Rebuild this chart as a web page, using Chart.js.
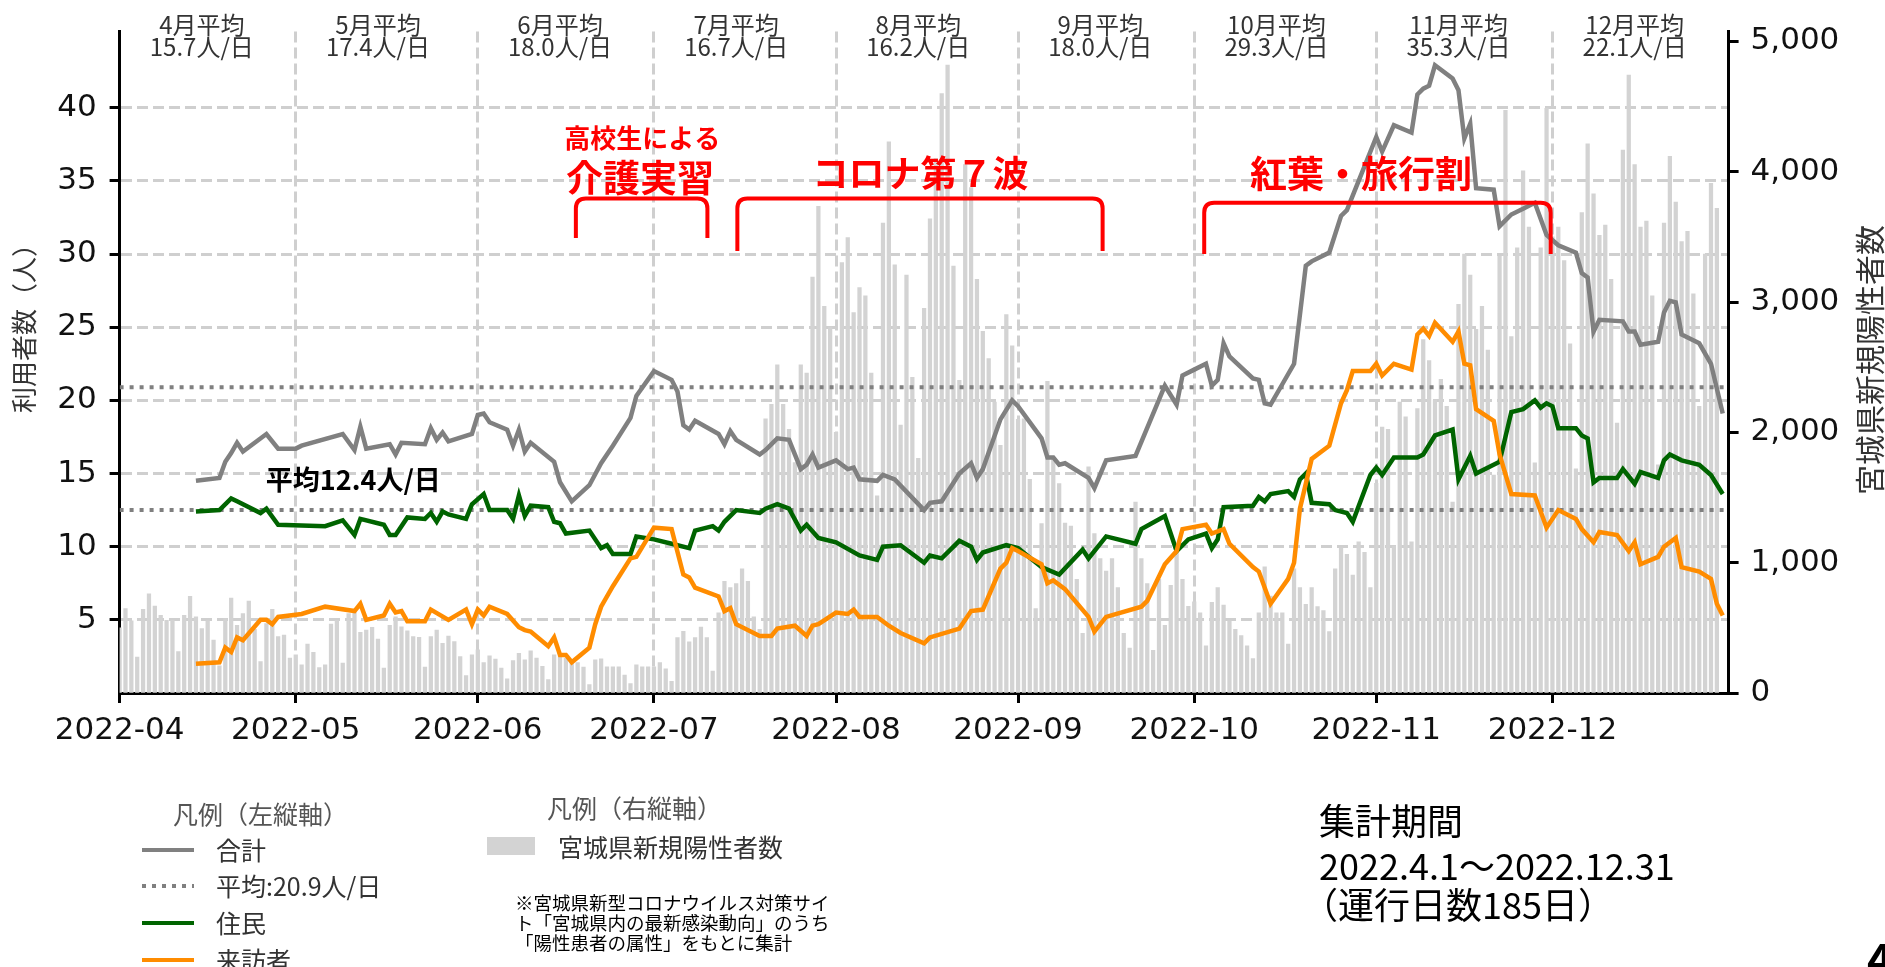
<!DOCTYPE html>
<html lang="ja">
<head>
<meta charset="utf-8">
<script src="https://cdn.jsdelivr.net/npm/chart.js@4.4.1/dist/chart.umd.min.js"></script>
<style>
  html, body { margin: 0; padding: 0; background: #fff; overflow: hidden; }
  #wrap { position: relative; width: 1885px; height: 967px; }
  canvas { position: absolute; left: 0; top: 0; }
  .txt { position: absolute; white-space: nowrap; font-family: "Noto Sans CJK JP", sans-serif; line-height: 1; color: #333; }
  .hd { position: absolute; height: 4px; width: 52px; }
</style>
</head>
<body>
<div id="wrap">
  <canvas id="chart" width="1885" height="967"></canvas>

  <!-- 凡例（左縦軸） -->
  <div class="txt" style="left:173px; top:801px; font-size:25px; color:#555;">凡例（左縦軸）</div>
  <div class="hd" style="left:142px; top:848px; background:#808080;"></div>
  <div class="txt" style="left:216px; top:837px; font-size:25px;">合計</div>
  <div class="hd" style="left:142px; top:884px; background:repeating-linear-gradient(90deg,#808080 0 4px,transparent 4px 10px);"></div>
  <div class="txt" style="left:216px; top:873px; font-size:25px;">平均:20.9人/日</div>
  <div class="hd" style="left:142px; top:921px; background:#006400;"></div>
  <div class="txt" style="left:216px; top:910px; font-size:25px;">住民</div>
  <div class="hd" style="left:142px; top:958px; background:#ff8c00;"></div>
  <div class="txt" style="left:216px; top:947px; font-size:25px;">来訪者</div>

  <!-- 凡例（右縦軸） -->
  <div class="txt" style="left:547px; top:795px; font-size:25px; color:#555;">凡例（右縦軸）</div>
  <div style="position:absolute; left:487px; top:837px; width:48px; height:18px; background:#d3d3d3;"></div>
  <div class="txt" style="left:558px; top:834px; font-size:25px;">宮城県新規陽性者数</div>

  <div class="txt" style="left:515px; top:892px; font-size:18.5px; line-height:20px; color:#000;">※宮城県新型コロナウイルス対策サイ<br>ト「宮城県内の最新感染動向」のうち<br>「陽性患者の属性」をもとに集計</div>

  <div class="txt" style="left:1319px; top:801px; font-size:36px; color:#000;">集計期間</div>
  <div class="txt" style="left:1319px; top:846px; font-size:36px; color:#000;">2022.4.1～2022.12.31</div>
  <div class="txt" style="left:1302px; top:885px; font-size:36px; color:#000;">（運行日数185日）</div>

  <div class="txt" style="left:1867px; top:936px; font-size:44px; font-weight:bold; color:#000;">4</div>
</div>

<script>
// 月の区切り（x軸の目盛り）と月平均
const months = ['2022-04', '2022-05', '2022-06', '2022-07', '2022-08', '2022-09', '2022-10', '2022-11', '2022-12'];
const monthAvg = [15.7, 17.4, 18.0, 16.7, 16.2, 18.0, 29.3, 35.3, 22.1];
const leftTicks = [5, 10, 15, 20, 25, 30, 35, 40];
const rightTicks = [0, 1000, 2000, 3000, 4000, 5000];

// 平均線（合計 / 住民）
const avgTotal = 20.9;
const avgResident = 12.5;

// 宮城県新規陽性者数（2022-04-01 から 1日ずつ）
const positives = [
  500, 647, 553, 275, 642, 761, 667, 596, 558, 558,
  318, 596, 741, 584, 495, 553, 407, 209, 571, 728,
  520, 609, 705, 488, 242, 533, 642, 432, 445, 267,
  292, 217, 376, 313, 196, 217, 528, 558, 229, 609,
  622, 465, 483, 503, 414, 191, 520, 584, 508, 477,
  432, 427, 199, 432, 483, 381, 437, 394, 280, 133,
  292, 331, 234, 285, 260, 191, 108, 249, 305, 255,
  323, 267, 204, 103, 292, 305, 267, 255, 234, 199,
  65, 255, 262, 200, 200, 200, 137, 72, 217, 200,
  200, 200, 233, 185, 89, 425, 473, 393, 425, 505,
  425, 169, 616, 856, 808, 840, 952, 856, 584, 489,
  2103, 2215, 2519, 2215, 2024, 1768, 2519, 2455, 3191, 3735,
  2967, 2807, 2000, 3302, 3495, 2919, 3111, 3047, 2455, 1512,
  3606, 4230, 3286, 2055, 3207, 2423, 1800, 2951, 3638, 4100,
  4600, 4818, 3276, 2400, 4054, 3878, 3175, 2775, 2567, 2232,
  1900, 2903, 2663, 2100, 2103, 1640, 648, 1300, 2391, 1800,
  1607, 1304, 1280, 872, 457, 1736, 1224, 1032, 936, 1032,
  808, 457, 344, 1464, 1032, 840, 328, 872, 520, 826,
  1096, 872, 665, 700, 616, 361, 696, 808, 675, 552,
  489, 441, 361, 264, 616, 968, 744, 616, 616, 376,
  952, 808, 680, 808, 664, 632, 472, 952, 1112, 1064,
  904, 1160, 1080, 808, 1608, 2040, 2024, 1128, 2232, 2119,
  1160, 2183, 2711, 2551, 2248, 2407, 2200, 1464, 2983, 3367,
  3207, 2791, 2967, 2631, 1672, 3351, 4470, 2735, 3415, 4006,
  3575, 1767, 3415, 4486, 3500, 3575, 3318, 2679, 1720, 3686,
  4214, 3830, 3511, 3590, 3175, 2071, 4166, 4742, 4054, 3575,
  3622, 3047, 1750, 3606, 4118, 3767, 3463, 3543, 3063, 2200,
  3367, 3910, 3719, null, null
];

// 利用者数（運行日のみ、2022-04-01 からの日数）
const totalDay = [
  13, 17, 18, 19, 20, 21, 25, 27, 30, 31,
  38, 40, 41, 42, 46, 47, 48, 52, 53, 54,
  55, 56, 60, 61, 62, 63, 66, 67, 68, 69,
  70, 74, 75, 77, 80, 82, 84, 87, 88, 91,
  94, 95, 96, 97, 98, 102, 103, 104, 105, 109,
  110, 112, 114, 116, 117, 118, 119, 122, 124, 125,
  126, 129, 130, 132, 137, 138, 140, 143, 145, 146,
  147, 150, 152, 153, 157, 158, 159, 160, 161, 165,
  166, 168, 173, 178, 180, 181, 183, 185, 186, 187,
  188, 189, 193, 194, 195, 196, 198, 200, 202, 203,
  206, 208, 209, 214, 215, 217, 220, 221, 222, 223,
  224, 227, 228, 229, 230, 231, 234, 235, 237, 239,
  241, 243, 245, 248, 249, 250, 251, 252, 256, 257,
  258, 259, 262, 263, 264, 265, 266, 269, 271, 273
];
const totalVal = [
  14.5, 14.7, 15.8, 16.4, 17.1, 16.5, 17.7, 16.7, 16.7, 16.9,
  17.7, 16.6, 18.2, 16.7, 17.0, 16.3, 17.1, 17.0, 18.1, 17.3,
  17.8, 17.2, 17.7, 19.0, 19.1, 18.5, 18.0, 16.9, 18.0, 16.5,
  17.1, 15.8, 14.4, 13.1, 14.2, 15.7, 16.9, 18.8, 20.3, 22.0,
  21.4, 20.6, 18.3, 18.0, 18.6, 17.7, 17.0, 17.9, 17.3, 16.3,
  16.6, 17.4, 17.3, 15.3, 15.6, 16.3, 15.4, 15.9, 15.3, 15.4,
  14.6, 14.5, 14.9, 14.6, 12.5, 13.0, 13.1, 15.0, 15.7, 14.7,
  15.3, 18.7, 20.0, 19.6, 17.4, 16.1, 16.1, 15.6, 15.7, 14.7,
  14.0, 15.9, 16.2, 21.0, 19.7, 21.7, 22.1, 22.5, 21.0, 21.4,
  23.9, 23.0, 21.5, 21.4, 19.8, 19.7, 21.1, 22.5, 29.2, 29.5,
  30.1, 32.6, 33.0, 38.0, 37.0, 38.8, 38.3, 40.9, 41.3, 41.5,
  42.9, 42.0, 41.2, 37.9, 38.9, 34.5, 34.4, 31.9, 32.7, 33.1,
  33.5, 31.3, 30.6, 30.1, 28.7, 28.4, 24.7, 25.5, 25.4, 24.7,
  24.7, 23.8, 24.0, 26.0, 26.8, 26.7, 24.5, 23.9, 22.5, 19.1
];

const residentDay = [
  13, 17, 19, 20, 24, 25, 27, 35, 38, 40,
  41, 45, 46, 47, 49, 52, 53, 54, 55, 56,
  59, 60, 62, 63, 66, 67, 68, 69, 70, 73,
  74, 75, 76, 80, 82, 83, 84, 87, 88, 91,
  94, 97, 98, 101, 102, 103, 105, 109, 110, 112,
  114, 116, 117, 119, 122, 126, 129, 130, 133, 137,
  138, 140, 143, 145, 146, 147, 151, 153, 157, 160,
  164, 165, 168, 173, 174, 178, 180, 182, 185, 186,
  187, 188, 193, 194, 195, 196, 199, 200, 201, 202,
  203, 206, 207, 209, 210, 213, 214, 215, 217, 221,
  222, 224, 227, 228, 230, 231, 235, 237, 239, 241,
  242, 243, 244, 245, 248, 249, 250, 251, 252, 255,
  256, 258, 259, 262, 263, 264, 266, 269, 271, 273
];
const residentVal = [
  12.4, 12.5, 13.3, 13.1, 12.3, 12.6, 11.5, 11.4, 11.8, 10.8,
  11.9, 11.5, 10.8, 10.8, 12.0, 11.9, 12.3, 11.7, 12.4, 12.2,
  11.9, 12.9, 13.6, 12.5, 12.5, 11.9, 13.5, 12.1, 12.8, 12.7,
  11.7, 11.6, 10.9, 11.1, 9.9, 10.1, 9.5, 9.5, 10.7, 10.5,
  10.2, 9.9, 11.1, 11.4, 11.1, 11.7, 12.5, 12.3, 12.6, 12.9,
  12.6, 11.1, 11.5, 10.6, 10.3, 9.4, 9.1, 10.0, 10.1, 8.9,
  9.4, 9.2, 10.4, 10.0, 9.1, 9.6, 10.1, 9.9, 8.6, 8.1,
  9.8, 9.2, 10.7, 10.2, 11.2, 12.1, 9.7, 10.5, 10.9, 9.9,
  10.5, 12.7, 12.8, 13.4, 13.1, 13.6, 13.8, 13.4, 14.6, 15.0,
  13.0, 12.9, 12.5, 12.3, 11.7, 14.9, 15.4, 14.9, 16.1, 16.1,
  16.3, 17.6, 18.0, 14.6, 16.2, 15.0, 15.8, 19.2, 19.4, 20.0,
  19.5, 19.8, 19.6, 18.1, 18.1, 17.6, 17.4, 14.4, 14.7, 14.7,
  15.3, 14.3, 15.1, 14.7, 15.9, 16.3, 15.9, 15.6, 14.9, 13.6
];

const visitorDay = [
  13, 17, 18, 19, 20, 21, 24, 25, 26, 27,
  31, 35, 40, 41, 42, 45, 46, 47, 48, 49,
  52, 53, 56, 59, 60, 61, 62, 63, 66, 68,
  69, 70, 73, 74, 75, 76, 77, 80, 81, 82,
  84, 87, 88, 91, 94, 96, 97, 98, 102, 103,
  104, 105, 109, 111, 112, 115, 117, 118, 119, 122,
  124, 125, 126, 129, 131, 133, 137, 138, 143, 145,
  147, 150, 151, 152, 153, 157, 158, 159, 161, 165,
  166, 168, 174, 175, 178, 180, 181, 185, 186, 188,
  189, 193, 194, 196, 199, 200, 201, 203, 206, 208,
  209, 210, 213, 214, 215, 217, 220, 221, 222, 223,
  224, 227, 228, 229, 230, 231, 234, 235, 237, 241,
  243, 245, 248, 249, 251, 252, 255, 257, 258, 259,
  262, 263, 265, 266, 269, 271, 272, 273
];
const visitorVal = [
  2.0, 2.1, 3.1, 2.8, 3.8, 3.6, 5.0, 5.0, 4.7, 5.2,
  5.4, 5.9, 5.6, 6.1, 5.0, 5.3, 6.1, 5.5, 5.6, 4.9,
  4.9, 5.7, 5.0, 5.7, 4.7, 5.7, 5.3, 5.9, 5.4, 4.5,
  4.3, 4.2, 3.2, 3.8, 2.6, 2.6, 2.1, 3.1, 4.7, 5.9,
  7.3, 9.2, 9.3, 11.3, 11.2, 8.1, 7.9, 7.2, 6.6, 5.6,
  5.8, 4.7, 3.9, 3.9, 4.4, 4.6, 3.9, 4.6, 4.7, 5.5,
  5.4, 5.7, 5.2, 5.2, 4.6, 4.1, 3.4, 3.8, 4.4, 5.6,
  5.7, 8.5, 8.9, 9.9, 9.7, 8.8, 7.5, 7.7, 7.1, 5.2,
  4.2, 5.2, 5.9, 6.3, 8.8, 9.7, 11.2, 11.5, 10.9, 11.2,
  10.2, 8.6, 8.3, 6.1, 7.8, 8.9, 12.6, 16.0, 16.9, 19.8,
  20.7, 22.0, 22.0, 22.5, 21.7, 22.5, 22.1, 24.5, 24.9, 24.4,
  25.3, 24.0, 24.7, 22.5, 22.4, 19.4, 18.6, 16.3, 13.6, 13.5,
  11.3, 12.5, 11.9, 11.2, 10.3, 11.0, 10.8, 9.7, 10.3, 8.8,
  9.3, 10.0, 10.6, 8.6, 8.3, 7.8, 6.1, 5.3
];

// 日付 → 2022-04-01 からの日数
const dayOf = s => {
  const [y, m, d] = s.split('-').map(Number);
  return (Date.UTC(y, m - 1, d || 1) - Date.UTC(2022, 3, 1)) / 86400000;
};
const monthDays = months.map(m => dayOf(m));
const lastDay = dayOf('2022-12-31');

const pts = (days, vals) => days.map((d, i) => ({ x: d, y: vals[i] }));

// 赤い注釈（かっこ）
const brackets = [
  { from: 77.7, to: 100.1, top: 33.8, bottom: 31.1 },
  { from: 105.2, to: 167.4, top: 33.8, bottom: 30.2 },
  { from: 184.7, to: 243.7, top: 33.5, bottom: 30.0 }
];
const notes = [
  { text: '高校生による', day: 89.0, val: 37.9, size: 26 },
  { text: '介護実習', day: 88.6, val: 35.2, size: 37 },
  { text: 'コロナ第７波', day: 136.4, val: 35.5, size: 36 },
  { text: '紅葉・旅行割', day: 211.4, val: 35.5, size: 37 }
];

const tickFont = { family: '"DejaVu Sans"', size: 31 };
const jp = '"Noto Sans CJK JP", sans-serif';

const overlay = {
  id: 'overlay',
  afterDatasetsDraw(chart) {
    const { ctx, scales: { x, y } } = chart;
    ctx.save();
    ctx.textAlign = 'center';
    ctx.textBaseline = 'middle';

    // 月平均
    ctx.fillStyle = '#333';
    ctx.font = '24px ' + jp;
    months.forEach((m, i) => {
      const px = x.getPixelForValue(monthDays[i] + 14);
      ctx.fillText(parseInt(m.slice(5), 10) + '月平均', px, 25);
      ctx.fillText(monthAvg[i].toFixed(1) + '人/日', px, 47);
    });

    // かっこ
    ctx.strokeStyle = '#ff0000';
    ctx.lineWidth = 4;
    const r = 10;
    brackets.forEach(b => {
      const l = x.getPixelForValue(b.from), rt = x.getPixelForValue(b.to);
      const t = y.getPixelForValue(b.top), bt = y.getPixelForValue(b.bottom);
      ctx.beginPath();
      ctx.moveTo(l, bt);
      ctx.lineTo(l, t + r);
      ctx.quadraticCurveTo(l, t, l + r, t);
      ctx.lineTo(rt - r, t);
      ctx.quadraticCurveTo(rt, t, rt, t + r);
      ctx.lineTo(rt, bt);
      ctx.stroke();
    });

    ctx.fillStyle = '#ff0000';
    notes.forEach(n => {
      ctx.font = 'bold ' + n.size + 'px ' + jp;
      ctx.fillText(n.text, x.getPixelForValue(n.day), y.getPixelForValue(n.val));
    });

    // 住民の平均ラベル
    ctx.fillStyle = '#000';
    ctx.textAlign = 'left';
    ctx.font = 'bold 27px ' + jp;
    ctx.fillText('平均12.4人/日', x.getPixelForValue(24.9), y.getPixelForValue(14.6));

    // 軸タイトル
    ctx.fillStyle = '#333';
    ctx.textAlign = 'center';
    ctx.font = '26px ' + jp;
    ctx.save();
    ctx.translate(24, 322);
    ctx.rotate(-Math.PI / 2);
    ctx.fillText('利用者数（人）', 0, 0);
    ctx.restore();
    ctx.font = '30px ' + jp;
    ctx.save();
    ctx.translate(1870, 360);
    ctx.rotate(-Math.PI / 2);
    ctx.fillText('宮城県新規陽性者数', 0, 0);
    ctx.restore();

    ctx.restore();
  }
};

const flat = v => [{ x: 0, y: v }, { x: lastDay, y: v }];

new Chart(document.getElementById('chart'), {
  type: 'line',
  data: {
    datasets: [
      {
        label: '来訪者', data: pts(visitorDay, visitorVal), yAxisID: 'y',
        borderColor: '#ff8c00', borderWidth: 4.5, pointRadius: 0, tension: 0, order: 1
      },
      {
        label: '住民', data: pts(residentDay, residentVal), yAxisID: 'y',
        borderColor: '#006400', borderWidth: 4.5, pointRadius: 0, tension: 0, order: 2
      },
      {
        label: '平均', data: flat(avgTotal), yAxisID: 'y',
        borderColor: '#808080', borderWidth: 4, borderDash: [4, 6], pointRadius: 0, order: 3
      },
      {
        label: '住民平均', data: flat(avgResident), yAxisID: 'y',
        borderColor: '#808080', borderWidth: 4, borderDash: [4, 6], pointRadius: 0, order: 3
      },
      {
        label: '合計', data: pts(totalDay, totalVal), yAxisID: 'y',
        borderColor: '#808080', borderWidth: 4.5, pointRadius: 0, tension: 0, order: 4
      },
      {
        type: 'bar', label: '宮城県新規陽性者数',
        data: positives.map((v, i) => ({ x: i, y: v })), yAxisID: 'y1',
        backgroundColor: '#d3d3d3', barThickness: 3.6, order: 10
      }
    ]
  },
  options: {
    responsive: false,
    devicePixelRatio: 1,
    animation: false,
    layout: { padding: { top: 25, left: 0, right: 0, bottom: 0 } },
    plugins: { legend: { display: false }, tooltip: { enabled: false } },
    scales: {
      x: {
        type: 'linear', min: 0, max: lastDay, offset: false,
        afterBuildTicks: s => { s.ticks = monthDays.map(v => ({ value: v })); },
        ticks: {
          callback: (v, i) => months[i], font: tickFont, color: '#111',
          padding: 9, maxRotation: 0, autoSkip: false
        },
        grid: { color: '#cfcfcf', lineWidth: 3, tickLength: 10, tickColor: '#000', tickWidth: 3, offset: false },
        border: { display: true, color: '#000', width: 3, dash: [11, 5] },
        afterFit: s => { s.height = 274; }
      },
      y: {
        position: 'left', min: 0, max: 45.2,
        afterBuildTicks: s => { s.ticks = leftTicks.map(v => ({ value: v })); },
        ticks: { font: tickFont, color: '#111', padding: 13 },
        grid: { color: '#cfcfcf', lineWidth: 3, tickLength: 10, tickColor: '#000', tickWidth: 3 },
        border: { display: true, color: '#000', width: 3, dash: [11, 5] },
        afterFit: s => { s.width = 119.6; }
      },
      y1: {
        position: 'right', min: 0, max: 5075,
        afterBuildTicks: s => { s.ticks = rightTicks.map(v => ({ value: v })); },
        ticks: { font: tickFont, color: '#111', padding: 12, callback: v => v.toLocaleString('en-US') },
        grid: { drawOnChartArea: false, tickLength: 10, tickColor: '#000', tickWidth: 3 },
        border: { display: true, color: '#000', width: 3 },
        afterFit: s => { s.width = 156.4; }
      }
    }
  },
  plugins: [overlay]
});
</script>
</body>
</html>
